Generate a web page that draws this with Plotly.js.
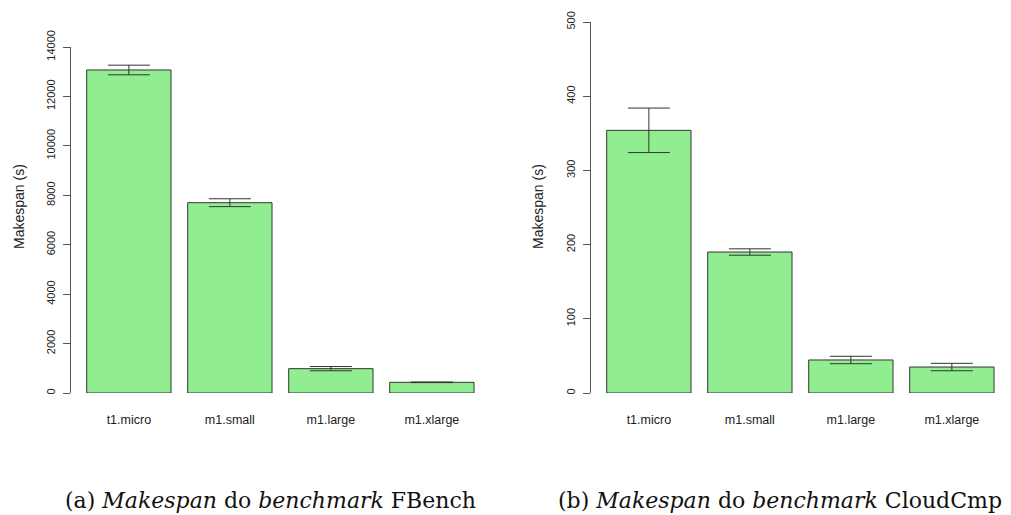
<!DOCTYPE html>
<html><head><meta charset="utf-8">
<script src="https://cdn.plot.ly/plotly-3.0.1.min.js"></script>
<style>html,body{margin:0;padding:0;background:#fff}#c{width:1011px;height:515px}</style>
</head><body><div id="c"></div>
<script>
const categories = ["t1.micro", "m1.small", "m1.large", "m1.xlarge"];
const fbenchMakespan = [13070, 7700, 985, 432];
const fbenchError = [195, 160, 85, 12];
const cloudcmpMakespan = [354, 190, 44.5, 35];
const cloudcmpError = [30, 4.3, 5, 5];
const fbenchTicks = [0, 2000, 4000, 6000, 8000, 10000, 12000, 14000];
const cloudcmpTicks = [0, 100, 200, 300, 400, 500];
const yTitle = "Makespan (s)";
const captions = ["(a) <i>Makespan</i> do <i>benchmark</i> FBench", "(b) <i>Makespan</i> do <i>benchmark</i> CloudCmp"];

const W = 1011, H = 515;
const barStyle = {color: "#90EE90", line: {color: "#333333", width: 1}};
const errStyle = (arr) => ({type: "data", array: arr, visible: true, color: "#333333", thickness: 1, width: 21});

const traces = [
  {type: "bar", x: categories, y: fbenchMakespan, error_y: errStyle(fbenchError), marker: barStyle, xaxis: "x", yaxis: "y", hoverinfo: "x+y"},
  {type: "bar", x: categories, y: cloudcmpMakespan, error_y: errStyle(cloudcmpError), marker: barStyle, xaxis: "x2", yaxis: "y2", hoverinfo: "x+y"}
];

const axFont = {family: "Liberation Sans, Arial, sans-serif", size: 11, color: "#222"};
const xBase = {
  type: "category", range: [-0.573, 3.45], showline: false, showgrid: false, zeroline: false,
  ticks: "", ticklabelstandoff: 17, tickfont: {family: "Liberation Sans, Arial, sans-serif", size: 12.5, color: "#222"}
};
const yBase = (ticks, maxv) => ({
  range: [0, maxv], tickvals: ticks, ticktext: ticks.map(String), tickangle: -90,
  showline: true, linecolor: "#555", linewidth: 1, ticks: "outside", ticklen: 7, tickcolor: "#555",
  showgrid: false, zeroline: false, tickfont: axFont, ticklabelstandoff: 4
});

const yb0 = (H - 393) / H;
const capFont = {family: "DejaVu Serif, serif", size: 22, color: "#111"};
const layout = {
  width: W, height: H, margin: {l: 0, r: 0, t: 0, b: 0},
  paper_bgcolor: "#fff", plot_bgcolor: "#fff", showlegend: false, bargap: 0.165,
  xaxis: Object.assign({}, xBase, {domain: [71 / W, 477.3 / W], anchor: "y"}),
  yaxis: Object.assign(yBase(fbenchTicks, 14000), {domain: [yb0, (H - 47) / H], anchor: "x"}),
  xaxis2: Object.assign({}, xBase, {domain: [591 / W, 997.3 / W], anchor: "y2"}),
  yaxis2: Object.assign(yBase(cloudcmpTicks, 500), {domain: [yb0, (H - 22) / H], anchor: "x2"}),
  annotations: [
    {text: yTitle, xref: "paper", yref: "paper", x: 19 / W, y: (H - 207) / H, textangle: -90, showarrow: false,
     font: {family: "Liberation Sans, Arial, sans-serif", size: 14, color: "#222"}, xanchor: "center", yanchor: "middle"},
    {text: yTitle, xref: "paper", yref: "paper", x: 538 / W, y: (H - 207) / H, textangle: -90, showarrow: false,
     font: {family: "Liberation Sans, Arial, sans-serif", size: 14, color: "#222"}, xanchor: "center", yanchor: "middle"},
    {text: captions[0], xref: "paper", yref: "paper", x: 270 / W, y: (H - 500) / H, showarrow: false,
     font: capFont, xanchor: "center", yanchor: "middle"},
    {text: captions[1], xref: "paper", yref: "paper", x: 780 / W, y: (H - 500) / H, showarrow: false,
     font: capFont, xanchor: "center", yanchor: "middle"}
  ]
};
Plotly.newPlot("c", traces, layout, {staticPlot: true});
</script></body></html>
